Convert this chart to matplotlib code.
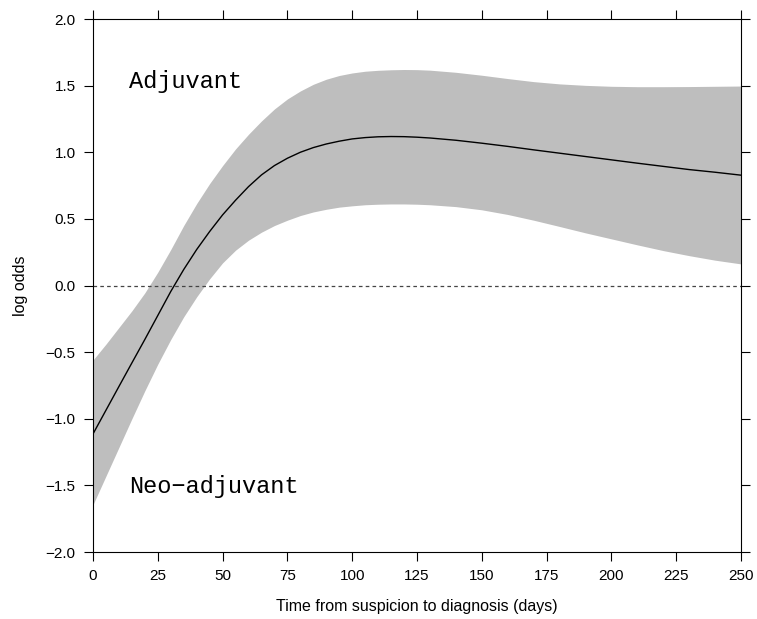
import matplotlib
matplotlib.use("Agg")
import matplotlib.pyplot as plt

plt.rcParams['lines.scale_dashes'] = False

days = [0, 5, 10, 15, 20, 25, 30, 35, 40, 45, 50, 55, 60, 65, 70, 75, 80, 85, 90, 95, 100,
        105, 110, 115, 120, 125, 130, 140, 150, 160, 170, 180, 190, 200, 210, 220, 230, 240, 250]
log_odds = [-1.114, -0.936, -0.758, -0.581, -0.405, -0.225, -0.045, 0.12, 0.27, 0.405, 0.53,
            0.64, 0.742, 0.83, 0.90, 0.955, 1.0, 1.035, 1.062, 1.083, 1.10,
            1.11, 1.116, 1.118, 1.117, 1.113, 1.107, 1.09, 1.068, 1.044, 1.018, 0.993, 0.968,
            0.943, 0.918, 0.894, 0.87, 0.85, 0.828]
upper = [-0.559, -0.44, -0.315, -0.19, -0.055, 0.10, 0.27, 0.45, 0.615, 0.765, 0.90, 1.025,
         1.135, 1.235, 1.325, 1.40, 1.46, 1.51, 1.548, 1.576, 1.595,
         1.608, 1.615, 1.619, 1.621, 1.62, 1.616, 1.60, 1.578, 1.553, 1.530, 1.513, 1.502,
         1.495, 1.492, 1.492, 1.493, 1.495, 1.497]
lower = [-1.645, -1.43, -1.215, -1.0, -0.79, -0.59, -0.405, -0.235, -0.085, 0.05, 0.17, 0.265,
         0.34, 0.40, 0.45, 0.49, 0.525, 0.552, 0.572, 0.588, 0.598,
         0.606, 0.61, 0.612, 0.612, 0.61, 0.606, 0.592, 0.568, 0.533, 0.49, 0.443, 0.395,
         0.35, 0.305, 0.262, 0.224, 0.19, 0.162]

x_ticks = [0, 25, 50, 75, 100, 125, 150, 175, 200, 225, 250]
y_ticks = [-2.0, -1.5, -1.0, -0.5, 0.0, 0.5, 1.0, 1.5, 2.0]
y_tick_labels = ['\u22122.0', '\u22121.5', '\u22121.0', '\u22120.5', '0.0', '0.5', '1.0', '1.5', '2.0']

W, H = 757, 619
fig = plt.figure(figsize=(W / 100, H / 100), dpi=100)
ax = fig.add_axes([93 / W, 1 - 552 / H, (741 - 93) / W, (552 - 19) / H])

ax.fill_between(days, lower, upper, color='#BEBEBE', linewidth=0)
ax.plot(days, log_odds, color='black', linewidth=1.0, solid_joinstyle='round')
ax.axhline(0, color='#444444', linewidth=0.9, linestyle=(0, (2.6, 2.3)))

ax.set_xlim(0, 250)
ax.set_ylim(-2.0, 2.0)
ax.set_xticks(x_ticks)
ax.set_xticklabels([str(t) for t in x_ticks])
ax.set_yticks(y_ticks)
ax.set_yticklabels(y_tick_labels)

sans = 'Liberation Sans'
mono = 'Liberation Mono'
ax.tick_params(axis='both', which='both', direction='out', length=6.5, width=0.8,
               top=True, right=True, labeltop=False, labelright=False,
               labelsize=11, pad=6)
for lab in ax.get_xticklabels() + ax.get_yticklabels():
    lab.set_fontfamily(sans)
for sp in ax.spines.values():
    sp.set_linewidth(0.8)

ax.text(13.9, 1.53, 'Adjuvant', family=mono, fontsize=17, ha='left', va='center')
ax.text(13.9, -1.51, 'Neo\u2212adjuvant', family=[mono, 'DejaVu Sans Mono'], fontsize=17,
        ha='left', va='center')

fig.text(417 / W, 1 - 607 / H, 'Time from suspicion to diagnosis (days)', family=sans,
         fontsize=11.5, ha='center', va='center')
fig.text(20 / W, 1 - 285.5 / H, 'log odds', family=sans, fontsize=11.5, ha='center',
         va='center', rotation=90)

fig.savefig('out.png', dpi=100)
